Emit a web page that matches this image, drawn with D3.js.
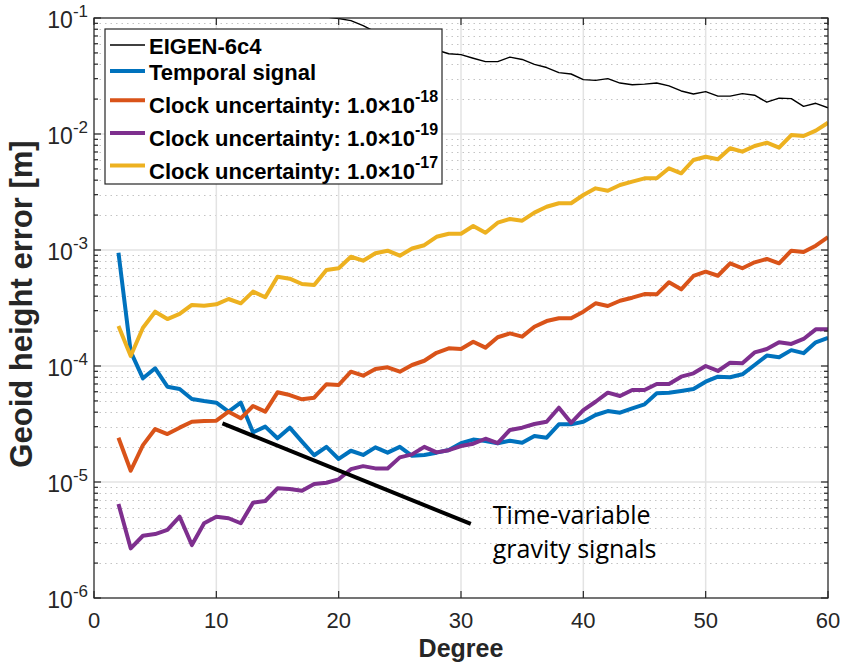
<!DOCTYPE html>
<html>
<head>
<meta charset="utf-8">
<script src="https://cdn.jsdelivr.net/npm/d3@7"></script>
<style>
  body { margin: 0; background: #fff; }
  svg { display: block; }
</style>
</head>
<body>
<div id="chart"></div>
<script>
// degrees of the simulated curves
const degrees = [2, 3, 4, 5, 6, 7, 8, 9, 10, 11, 12, 13, 14, 15, 16, 17, 18, 19, 20, 21, 22, 23, 24, 25, 26, 27, 28, 29, 30,
  31, 32, 33, 34, 35, 36, 37, 38, 39, 40, 41, 42, 43, 44, 45, 46, 47, 48, 49, 50, 51, 52, 53, 54, 55, 56, 57, 58, 59, 60];
const eigenDegrees = [18, 19, 20, 21, 22, 23, 24, 25, 26, 27, 28, 29, 30, 31, 32, 33, 34, 35, 36, 37, 38, 39,
  40, 41, 42, 43, 44, 45, 46, 47, 48, 49, 50, 51, 52, 53, 54, 55, 56, 57, 58, 59, 60];

// geoid height error [m]
const eigen6c4 = [0.112, 0.102, 0.099, 0.095, 0.086, 0.076, 0.070, 0.066, 0.061, 0.057,
  0.053, 0.0492, 0.0483, 0.045, 0.0421, 0.0421, 0.046, 0.0439, 0.0398, 0.0374,
  0.0338, 0.0329, 0.0294, 0.029, 0.030, 0.0275, 0.0266, 0.0269, 0.0275, 0.026,
  0.0235, 0.0221, 0.0232, 0.0212, 0.0212, 0.0223, 0.0216, 0.0188, 0.0204, 0.0202,
  0.0173, 0.0184, 0.0168];
const temporal = [9.48e-4, 1.33e-4, 7.83e-5, 9.55e-5, 6.63e-5, 6.33e-5, 5.19e-5, 4.99e-5, 4.83e-5,
  4.04e-5, 4.83e-5, 2.68e-5, 3.00e-5, 2.38e-5, 2.94e-5, 2.23e-5, 1.70e-5, 2.01e-5, 1.58e-5,
  1.86e-5, 1.71e-5, 1.99e-5, 1.79e-5, 2.01e-5, 1.68e-5, 1.71e-5, 1.79e-5, 1.89e-5, 2.16e-5,
  2.32e-5, 2.26e-5, 2.16e-5, 2.27e-5, 2.18e-5, 2.49e-5, 2.41e-5, 3.14e-5, 3.14e-5, 3.31e-5,
  3.78e-5, 4.09e-5, 3.96e-5, 4.32e-5, 4.67e-5, 5.82e-5, 5.89e-5, 6.09e-5, 6.33e-5, 7.32e-5,
  8.09e-5, 7.99e-5, 8.48e-5, 1.02e-4, 1.23e-4, 1.19e-4, 1.37e-4, 1.29e-4, 1.60e-4, 1.75e-4];
const clock18 = [2.41e-5, 1.25e-5, 2.08e-5, 2.86e-5, 2.59e-5, 2.94e-5, 3.31e-5, 3.36e-5, 3.38e-5,
  4.04e-5, 3.54e-5, 4.52e-5, 4.04e-5, 5.93e-5, 5.62e-5, 5.16e-5, 5.33e-5, 6.96e-5, 6.86e-5,
  8.93e-5, 8.25e-5, 9.42e-5, 9.74e-5, 8.93e-5, 1.02e-4, 1.11e-4, 1.30e-4, 1.42e-4, 1.40e-4,
  1.62e-4, 1.44e-4, 1.77e-4, 1.91e-4, 1.79e-4, 2.18e-4, 2.44e-4, 2.58e-4, 2.58e-4, 2.94e-4,
  3.47e-4, 3.29e-4, 3.65e-4, 3.88e-4, 4.17e-4, 4.15e-4, 5.27e-4, 4.58e-4, 5.97e-4, 6.50e-4,
  6.00e-4, 7.68e-4, 6.96e-4, 7.83e-4, 8.37e-4, 7.68e-4, 9.86e-4, 9.61e-4, 1.09e-3, 1.29e-3];
const clock19 = [6.46e-6, 2.68e-6, 3.44e-6, 3.56e-6, 3.86e-6, 5.02e-6, 2.86e-6, 4.41e-6, 5.02e-6,
  4.87e-6, 4.41e-6, 6.63e-6, 6.86e-6, 8.82e-6, 8.70e-6, 8.41e-6, 9.61e-6, 9.86e-6, 1.055e-5,
  1.29e-5, 1.37e-5, 1.31e-5, 1.31e-5, 1.63e-5, 1.73e-5, 2.01e-5, 1.80e-5, 1.88e-5, 2.04e-5,
  2.14e-5, 2.36e-5, 2.16e-5, 2.81e-5, 2.94e-5, 3.16e-5, 3.31e-5, 4.37e-5, 3.24e-5, 4.17e-5,
  4.92e-5, 5.89e-5, 5.51e-5, 6.21e-5, 6.21e-5, 7.00e-5, 7.00e-5, 8.09e-5, 8.65e-5, 1.00e-4,
  9.06e-5, 1.068e-4, 1.055e-4, 1.31e-4, 1.40e-4, 1.60e-4, 1.55e-4, 1.71e-4, 2.07e-4, 2.07e-4];
const clock17 = [2.21e-4, 1.22e-4, 2.14e-4, 2.94e-4, 2.54e-4, 2.81e-4, 3.36e-4, 3.31e-4, 3.40e-4,
  3.78e-4, 3.47e-4, 4.38e-4, 3.91e-4, 5.89e-4, 5.66e-4, 5.09e-4, 4.99e-4, 6.73e-4, 6.96e-4,
  8.75e-4, 8.09e-4, 9.37e-4, 9.86e-4, 8.93e-4, 1.03e-3, 1.10e-3, 1.30e-3, 1.38e-3, 1.38e-3,
  1.61e-3, 1.41e-3, 1.72e-3, 1.85e-3, 1.79e-3, 2.10e-3, 2.36e-3, 2.53e-3, 2.53e-3, 2.98e-3,
  3.40e-3, 3.24e-3, 3.63e-3, 3.88e-3, 4.15e-3, 4.15e-3, 5.06e-3, 4.58e-3, 5.97e-3, 6.37e-3,
  6.05e-3, 7.53e-3, 7.04e-3, 7.88e-3, 8.41e-3, 7.62e-3, 9.80e-3, 9.61e-3, 1.068e-2, 1.25e-2];

// legend labels (base text + exponent of the clock uncertainty)
const seriesNames = ["EIGEN-6c4", "Temporal signal", "Clock uncertainty: 1.0\u00d710",
  "Clock uncertainty: 1.0\u00d710", "Clock uncertainty: 1.0\u00d710"];
const seriesExponents = [null, null, "-18", "-19", "-17"];
const xTicks = [0, 10, 20, 30, 40, 50, 60];
const yDecades = [-6, -5, -4, -3, -2, -1];

// annotation line drawn over the plot (degree, value)
const annotLine = [[10.5, 3.2e-5], [30.8, 4.35e-6]];
const annotText = ["Time-variable", "gravity signals"];
const annotAt = [32.6, 4.35e-6];

const colors = ["#000000", "#0072BD", "#D95319", "#7E2F8E", "#EDB120"];
const widths = [1.4, 4, 4, 4, 4];

const series = [
  { name: seriesNames[0], exp: seriesExponents[0], x: eigenDegrees, v: eigen6c4 },
  { name: seriesNames[1], exp: seriesExponents[1], x: degrees, v: temporal },
  { name: seriesNames[2], exp: seriesExponents[2], x: degrees, v: clock18 },
  { name: seriesNames[3], exp: seriesExponents[3], x: degrees, v: clock19 },
  { name: seriesNames[4], exp: seriesExponents[4], x: degrees, v: clock17 },
];

const margin = { top: 18, right: 15, bottom: 72, left: 94 },
  width = 843 - margin.left - margin.right,
  height = 670 - margin.top - margin.bottom;

const font = "'Liberation Sans', Arial, Helvetica, sans-serif";
const axisColor = "#262626";

const root = d3
  .select("#chart")
  .append("svg")
  .attr("width", width + margin.left + margin.right)
  .attr("height", height + margin.top + margin.bottom);

const svg = root.append("g").attr("transform", `translate(${margin.left}, ${margin.top})`);

const x = d3.scaleLinear().domain([0, 60]).range([0, width]);
const y = d3.scaleLog().domain([1e-6, 1e-1]).range([height, 0]);

// minor / major grid
const minorY = [];
yDecades.slice(0, -1).forEach((e) => {
  for (let k = 2; k <= 9; k++) minorY.push(k * Math.pow(10, e));
});
const majorY = yDecades.map((e) => Math.pow(10, e));

svg.append("g")
  .selectAll("line")
  .data(minorY)
  .join("line")
  .attr("x1", 0)
  .attr("x2", width)
  .attr("y1", (d) => Math.round(y(d)) + 0.5)
  .attr("y2", (d) => Math.round(y(d)) + 0.5)
  .attr("stroke", "#c4c4c4")
  .attr("stroke-width", 1)
  .attr("stroke-dasharray", "1.5,4");

svg.append("g")
  .selectAll("line")
  .data(majorY)
  .join("line")
  .attr("x1", 0)
  .attr("x2", width)
  .attr("y1", (d) => y(d))
  .attr("y2", (d) => y(d))
  .attr("stroke", "#e3e3e3")
  .attr("stroke-width", 1.5);

svg.append("g")
  .selectAll("line")
  .data(xTicks)
  .join("line")
  .attr("x1", (d) => x(d))
  .attr("x2", (d) => x(d))
  .attr("y1", 0)
  .attr("y2", height)
  .attr("stroke", "#e3e3e3")
  .attr("stroke-width", 1.5);

// data lines
svg.append("clipPath").attr("id", "clip")
  .append("rect").attr("width", width).attr("height", height);

const line = d3.line()
  .x((d) => x(d[0]))
  .y((d) => y(d[1]));

const plot = svg.append("g").attr("clip-path", "url(#clip)");
series.forEach((s, i) => {
  plot.append("path")
    .datum(s.x.map((d, j) => [d, s.v[j]]))
    .attr("d", line)
    .attr("fill", "none")
    .attr("stroke", colors[i])
    .attr("stroke-width", widths[i])
    .attr("stroke-linejoin", "round");
});

// annotation
svg.append("path")
  .datum(annotLine)
  .attr("d", line)
  .attr("stroke", "#000")
  .attr("stroke-width", 4);

svg.append("g")
  .selectAll("text")
  .data(annotText)
  .join("text")
  .attr("x", x(annotAt[0]))
  .attr("y", (d, i) => y(annotAt[1]) + i * 34)
  .style("font-family", "'Open Sans', sans-serif")
  .style("font-size", "25px")
  .attr("fill", "#000")
  .text((d) => d);

// axes box and ticks
svg.append("rect")
  .attr("width", width)
  .attr("height", height)
  .attr("fill", "none")
  .attr("stroke", axisColor)
  .attr("stroke-width", 1.2);

const tickG = svg.append("g").attr("stroke", axisColor).attr("stroke-width", 1.2);
xTicks.forEach((t) => {
  tickG.append("line").attr("x1", x(t)).attr("x2", x(t)).attr("y1", height).attr("y2", height - 7);
  tickG.append("line").attr("x1", x(t)).attr("x2", x(t)).attr("y1", 0).attr("y2", 7);
});
majorY.forEach((t) => {
  tickG.append("line").attr("x1", 0).attr("x2", 7).attr("y1", y(t)).attr("y2", y(t));
  tickG.append("line").attr("x1", width).attr("x2", width - 7).attr("y1", y(t)).attr("y2", y(t));
});
minorY.forEach((t) => {
  tickG.append("line").attr("x1", 0).attr("x2", 4).attr("y1", y(t)).attr("y2", y(t));
  tickG.append("line").attr("x1", width).attr("x2", width - 4).attr("y1", y(t)).attr("y2", y(t));
});

// tick labels
svg.append("g")
  .selectAll("text")
  .data(xTicks)
  .join("text")
  .attr("x", (d) => x(d))
  .attr("y", height + 30)
  .attr("text-anchor", "middle")
  .style("font-family", font)
  .style("font-size", "22px")
  .attr("fill", axisColor)
  .text((d) => d);

const yLab = svg.append("g")
  .selectAll("text")
  .data(yDecades)
  .join("text")
  .attr("x", -6)
  .attr("y", (d) => y(Math.pow(10, d)) + 10)
  .attr("text-anchor", "end")
  .style("font-family", font)
  .style("font-size", "23px")
  .attr("fill", axisColor);
yLab.append("tspan").text("10");
yLab.append("tspan").attr("dy", -11).style("font-size", "17px").text((d) => "-" + Math.abs(d));

// axis titles
svg.append("text")
  .attr("x", width / 2)
  .attr("y", height + 59)
  .attr("text-anchor", "middle")
  .style("font-family", font)
  .style("font-size", "25px")
  .style("font-weight", "bold")
  .attr("fill", axisColor)
  .text("Degree");

svg.append("text")
  .attr("transform", `translate(${-62}, ${height / 2 - 4}) rotate(-90)`)
  .attr("text-anchor", "middle")
  .style("font-family", font)
  .style("font-size", "31px")
  .style("font-weight", "bold")
  .attr("fill", axisColor)
  .text("Geoid height error [m]");

// legend
const legend = svg.append("g").attr("transform", `translate(${105 - margin.left}, ${29 - margin.top})`);
const rowY = [];
let cy = 16;
series.forEach((s, i) => {
  if (i > 0) cy += ((series[i - 1].exp ? 32.6 : 26) + (s.exp ? 32.6 : 26)) / 2;
  rowY.push(cy);
});
legend.append("rect")
  .attr("width", 337)
  .attr("height", 155)
  .attr("fill", "#fff")
  .attr("stroke", axisColor)
  .attr("stroke-width", 1.2);

series.forEach((s, i) => {
  legend.append("line")
    .attr("x1", 5)
    .attr("x2", 40)
    .attr("y1", rowY[i])
    .attr("y2", rowY[i])
    .attr("stroke", colors[i])
    .attr("stroke-width", widths[i]);
  const t = legend.append("text")
    .attr("x", 44)
    .attr("y", rowY[i] + (s.exp ? 13 : 8.5))
    .style("font-family", font)
    .style("font-size", "22px")
    .style("font-weight", "bold")
    .attr("fill", "#000")
    .text(s.name);
  if (s.exp) {
    t.append("tspan").attr("dy", -11).style("font-size", "16px").text(s.exp);
  }
});
</script>
</body>
</html>
